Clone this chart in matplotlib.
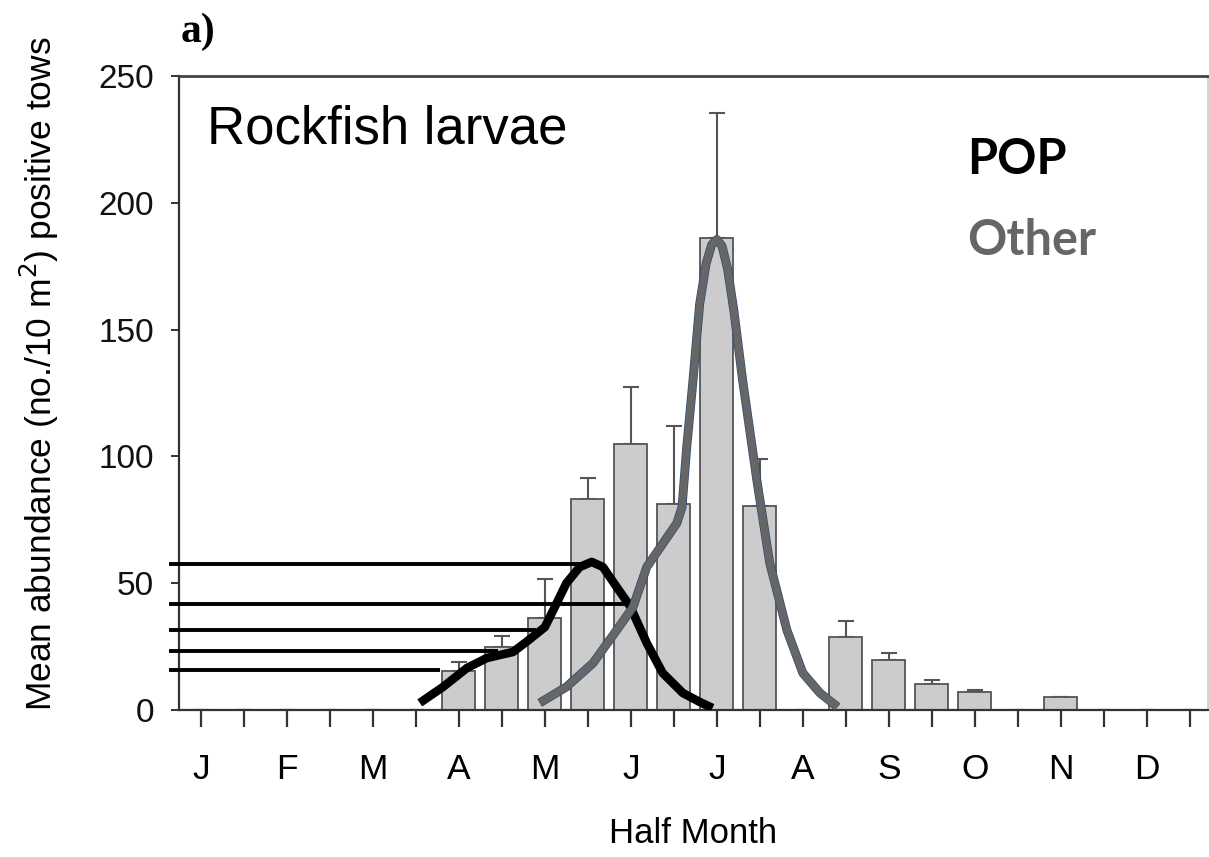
import numpy as np
import matplotlib
matplotlib.use("Agg")
import matplotlib.pyplot as plt
import matplotlib.patheffects as pe

# half-month bins, Jan (first half) .. Dec (second half)
months = ["J", "F", "M", "A", "M", "J", "J", "A", "S", "O", "N", "D"]
abundance = [0, 0, 0, 0, 0, 0, 15.4, 24.8, 36.3, 83.2, 104.9, 81.2,
             186.0, 80.4, 0, 28.7, 19.7, 10.3, 7.1, 0, 5.2, 0, 0, 0]
abundance_se = [0, 0, 0, 0, 0, 0, 3.6, 4.2, 15.4, 8.3, 22.5, 30.8,
                49.4, 18.6, 0, 6.3, 2.7, 1.5, 0.8, 0, 0, 0, 0, 0]

# hand-fitted curves (half-month index, abundance)
pop_x = [5.09, 5.63, 6.19, 6.65, 7.26, 7.58, 8.0, 8.23, 8.5, 8.81, 9.09,
         9.35, 9.67, 9.98, 10.37, 10.74, 11.21, 11.6, 11.9]
pop_y = [2.8, 9.1, 16.6, 20.5, 22.9, 27.0, 32.7, 40.6, 50.0, 56.4, 58.4,
         56.4, 48.5, 41.0, 26.4, 14.6, 6.7, 3.2, 0.8]
other_x = [7.88, 8.5, 9.12, 9.67, 10.05, 10.37, 11.07, 11.19, 11.3, 11.44,
           11.6, 11.75, 11.88, 12.0, 12.12, 12.25, 12.4, 12.6, 12.93,
           13.23, 13.63, 14.0, 14.4, 14.81]
other_y = [2.8, 9.1, 18.5, 31.5, 40.6, 56.4, 73.7, 80.0, 103.7, 129.0,
           160.0, 176.0, 183.5, 185.5, 183.0, 174.0, 157.0, 130.0, 90.7,
           58.0, 31.5, 14.6, 6.7, 1.2]

# POP reference levels read across to the y axis
pop_levels = [57.6, 41.8, 31.5, 23.3, 15.8]
pop_level_end = [8.9, 10.0, 7.8, 6.9, 5.56]

plt.rcParams["font.family"] = ["Liberation Sans", "DejaVu Sans"]

fig = plt.figure(figsize=(12.09, 8.57), dpi=100)
ax = fig.add_axes([0.148, 0.1715, 0.851, 0.7398])

x = np.arange(len(abundance))
ax.bar(x, abundance, width=0.77, color="#cccccc", edgecolor="#555555",
       linewidth=1.3, zorder=2)
lo = np.zeros(len(abundance_se))
ax.errorbar(x, abundance, yerr=[lo, abundance_se], fmt="none",
            ecolor="#555555", elinewidth=1.5, capsize=6, capthick=1.5,
            zorder=1.5)

for lev, end in zip(pop_levels, pop_level_end):
    ax.plot([-0.74, end], [lev, lev], color="black", lw=2.8,
            solid_capstyle="butt", clip_on=False, zorder=3)

ax.plot(pop_x, pop_y, color="black", lw=6.2, solid_capstyle="butt",
        solid_joinstyle="round", zorder=4)
ax.plot(other_x, other_y, color="#666666", lw=5.4, solid_capstyle="butt",
        solid_joinstyle="round", zorder=5,
        path_effects=[pe.Stroke(linewidth=6.4, foreground="#2b4a78"),
                      pe.Normal()])

ax.set_xlim(-0.512, 23.42)
ax.set_ylim(0, 250)

ax.set_xticks(x)
ax.set_xticklabels([months[i // 2] if i % 2 == 0 else "" for i in x],
                   fontsize=25.5)
ax.tick_params(axis="x", length=12, width=1.6, color="#333333", pad=19)
ax.set_yticks([0, 50, 100, 150, 200, 250])
ax.tick_params(axis="y", length=6, width=1.4, color="#333333",
               labelsize=24, pad=12, labelcolor="#111111")

for side in ["left", "bottom"]:
    ax.spines[side].set_color("#333333")
    ax.spines[side].set_linewidth(1.6)
ax.spines["top"].set_color("#444444")
ax.spines["top"].set_linewidth(2)
ax.spines["right"].set_color("#cccccc")
ax.spines["right"].set_linewidth(1.2)

ax.set_ylabel("Mean abundance (no./10 m$^2$) positive tows", fontsize=25.5)
ax.yaxis.set_label_coords(-0.115, 0.53)
ax.set_xlabel("Half Month", fontsize=25, labelpad=22)

ax.text(0.027, 0.915, "Rockfish larvae", transform=ax.transAxes,
        fontsize=38, va="center", ha="left")
ax.text(0.766, 0.869, "POP", transform=ax.transAxes, fontsize=35,
        fontweight="bold", family=["Lato", "DejaVu Sans"], color="black",
        va="center", ha="left")
ax.text(0.766, 0.741, "Other", transform=ax.transAxes, fontsize=35,
        fontweight="bold", family=["Lato", "DejaVu Sans"], color="#666666",
        va="center", ha="left")

fig.text(0.149, 0.963, "a)", fontsize=30, fontweight="bold",
         family=["Liberation Serif", "DejaVu Serif"], va="center", ha="left")

fig.savefig("out.png", dpi=100)
